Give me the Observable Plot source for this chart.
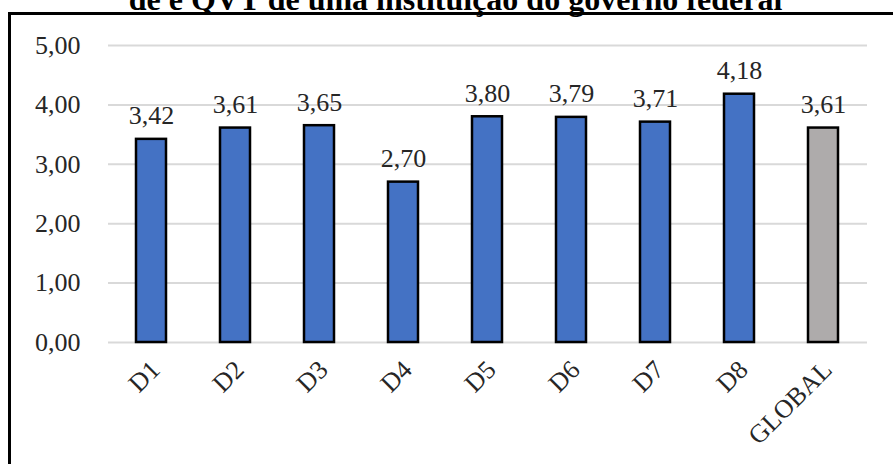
<!DOCTYPE html>
<html>
<head>
<meta charset="utf-8">
<script src="https://cdn.jsdelivr.net/npm/d3@7"></script>
<script src="https://cdn.jsdelivr.net/npm/@observablehq/plot@0.6"></script>
<style>
  html, body { margin: 0; padding: 0; background: #fff; width: 893px; height: 464px; overflow: hidden; }
  #frame { position: absolute; left: 8px; top: 12px; width: 1000px; height: 600px; border: 3px solid #000; box-sizing: border-box; }
  #title { position: absolute; left: 0; width: 911px; top: -17px; text-align: center; font-family: "Liberation Serif", "Times New Roman", serif; font-weight: bold; font-size: 32px; line-height: 32px; color: #000; white-space: nowrap; }
  #chart { position: absolute; left: 0; top: 0; }
</style>
</head>
<body>
<div id="frame"></div>
<div id="title">de e QVT de uma instituição do governo federal</div>
<div id="chart"></div>
<script>
const categories = ["D1", "D2", "D3", "D4", "D5", "D6", "D7", "D8", "GLOBAL"];
const values = [3.42, 3.61, 3.65, 2.70, 3.80, 3.79, 3.71, 4.18, 3.61];
const groups = ["Dimensão", "Dimensão", "Dimensão", "Dimensão", "Dimensão", "Dimensão", "Dimensão", "Dimensão", "Global"];
const yTicks = [0, 1, 2, 3, 4, 5];

const data = categories.map((c, i) => ({category: c, value: values[i], group: groups[i]}));
const fmt = v => d3.format(".2f")(v).replace(".", ",");

const chart = Plot.plot({
  width: 893,
  height: 464,
  marginLeft: 108,
  marginRight: 26,
  marginTop: 45,
  marginBottom: 122,
  style: {background: "transparent", fontFamily: "'Liberation Serif', 'Times New Roman', serif", fontSize: "26px", color: "#262626"},
  x: {domain: categories, paddingInner: 0.64, paddingOuter: 0.32, label: null},
  y: {domain: [0, 5], label: null},
  color: {domain: ["Dimensão", "Global"], range: ["#4472C4", "#AEABAB"]},
  marks: [
    Plot.gridY(yTicks, {stroke: "#d9d9d9", strokeWidth: 2, strokeOpacity: 1}),
    Plot.axisY(yTicks, {tickSize: 0, tickPadding: 28, tickFormat: fmt, fontSize: 26, label: null}),
    Plot.axisX({tickSize: 0, tickPadding: 23, tickRotate: -45, dx: 4, fontSize: 26, label: null}),
    Plot.barY(data, {x: "category", y: "value", fill: "group", stroke: "#000", strokeWidth: 2.5}),
    Plot.text(data, {x: "category", y: "value", text: d => fmt(d.value), lineAnchor: "bottom", dy: -15, fontSize: 26, fill: "#262626"})
  ]
});
document.getElementById("chart").appendChild(chart);
</script>
</body>
</html>
